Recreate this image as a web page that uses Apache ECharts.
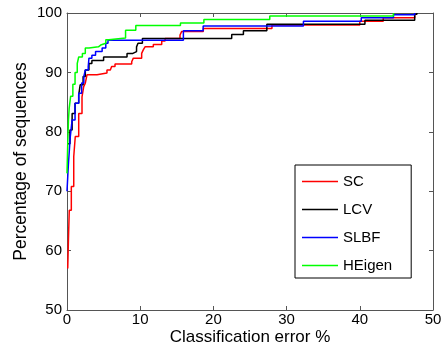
<!DOCTYPE html>
<html>
<head>
<meta charset="utf-8">
<script src="https://cdn.jsdelivr.net/npm/echarts@6/dist/echarts.min.js"></script>
<style>html,body{margin:0;padding:0;background:#fff;}#c{width:443px;height:352px;}</style>
</head>
<body>
<div id="c"></div>
<script>
var seriesNames = ['SC', 'LCV', 'SLBF', 'HEigen'];
var xTicks = [0, 10, 20, 30, 40, 50];
var yTicks = [50, 60, 70, 80, 90, 100];

var scData = [[0.1,57],[0.2,62],[0.31,66.8],[0.59,70.8],[0.92,75.8],[1.13,79.2],[1.6,83.1],[2.05,85.9],[2.28,87.6],[2.5,88.2],[2.73,89.6],[4.1,89.9],[5.46,90.4],[5.92,90.7],[6.1,91.0],[6.56,91.4],[8.84,91.8],[9.06,92.4],[10.2,93.2],[10.42,93.8],[10.66,94.3],[11.79,94.7],[12.94,95.3],[13.4,95.7],[15.44,96.3],[15.67,96.9],[18.62,97.4],[28,98.0],[40,98.6],[43.2,99.2],[47.5,100]];
var lcvData = [[0,78],[0.4,80.3],[0.7,83.1],[1.1,84.8],[1.6,86.2],[1.8,87.9],[2.2,89.3],[2.5,90.4],[3.0,91.5],[3.4,92.0],[5.0,92.6],[8.2,93.2],[9.0,93.5],[9.5,94.3],[9.7,94.9],[10.3,95.7],[22.5,96.4],[24.1,97.0],[27.3,98.1],[40.7,98.8],[47.5,99.8],[47.8,100]];
var slbfData = [[0,70],[0.1,72.4],[0.2,74.7],[0.45,79.2],[0.7,82],[1.1,84.8],[1.6,86.5],[2.0,88.2],[2.3,89.3],[2.5,90.4],[2.9,91.0],[3.0,92.4],[3.4,92.9],[3.9,93.5],[4.8,94.1],[5.3,94.9],[5.6,95.4],[15.9,97.0],[18.6,97.8],[32.3,98.6],[40.2,99.2],[44.6,99.7],[47.5,100]];
var heigenData = [[0,73],[0.1,78],[0.2,82],[0.3,84],[0.5,86],[0.8,88],[1.1,90],[1.4,91.5],[1.6,92.6],[2.1,93.2],[2.5,94.1],[3.0,94.3],[4.3,94.6],[4.6,94.9],[5.3,95.5],[5.7,95.8],[8.0,97.1],[9.4,97.9],[15.5,98.3],[18.7,98.9],[27.7,99.5],[44.6,100]];

var colors = ['#ff0000', '#000000', '#0000ff', '#00ff00'];
var datas = [scData, lcvData, slbfData, heigenData];

var axisColor = '#555';
var font = 'Liberation Sans, Arial, sans-serif';

function mkSeries(i) {
  return {
    name: seriesNames[i],
    type: 'line',
    step: 'end',
    data: datas[i],
    symbol: 'none',
    showSymbol: false,
    xAxisIndex: 0,
    yAxisIndex: 0,
    lineStyle: { color: colors[i], width: 1.5 },
    itemStyle: { color: colors[i] },
    animation: false
  };
}

var chart = echarts.init(document.getElementById('c'), null, { renderer: 'canvas' });
chart.setOption({
  animation: false,
  backgroundColor: '#fff',
  grid: { left: 67, right: 10, top: 13, bottom: 42, containLabel: false, outerBoundsMode: 'none' },
  xAxis: [{
    type: 'value', min: xTicks[0], max: xTicks[xTicks.length - 1], interval: 10,
    position: 'bottom',
    name: 'Classification error %', nameLocation: 'middle', nameGap: 18.5,
    nameMoveOverlap: false,
    nameTextStyle: { fontFamily: font, fontSize: 17, color: '#000', verticalAlign: 'top' },
    axisLine: { show: true, lineStyle: { color: axisColor, width: 1 } },
    axisTick: { show: true, inside: true, length: 4, lineStyle: { color: axisColor } },
    axisLabel: { fontFamily: font, fontSize: 15, color: '#000', margin: 2 },
    splitLine: { show: false }
  }, {
    type: 'value', min: xTicks[0], max: xTicks[xTicks.length - 1], interval: 10,
    position: 'top',
    axisLine: { show: true, onZero: false, lineStyle: { color: axisColor, width: 1 } },
    axisTick: { show: true, inside: true, length: 4, lineStyle: { color: axisColor } },
    axisLabel: { show: false },
    splitLine: { show: false }
  }],
  yAxis: [{
    type: 'value', min: yTicks[0], max: yTicks[yTicks.length - 1], interval: 10,
    position: 'left',
    name: 'Percentage of sequences', nameLocation: 'middle', nameGap: 37,
    nameMoveOverlap: false,
    nameTextStyle: { fontFamily: font, fontSize: 17.5, color: '#000' },
    axisLine: { show: true, onZero: false, lineStyle: { color: axisColor, width: 1 } },
    axisTick: { show: true, inside: true, length: 4, lineStyle: { color: axisColor } },
    axisLabel: { fontFamily: font, fontSize: 15, color: '#000', margin: 5 },
    splitLine: { show: false }
  }, {
    type: 'value', min: yTicks[0], max: yTicks[yTicks.length - 1], interval: 10,
    position: 'right',
    axisLine: { show: true, onZero: false, lineStyle: { color: axisColor, width: 1 } },
    axisTick: { show: true, inside: true, length: 4, lineStyle: { color: axisColor } },
    axisLabel: { show: false },
    splitLine: { show: false }
  }],
  legend: {
    data: seriesNames,
    orient: 'vertical',
    left: 295, top: 165,
    icon: 'rect',
    itemWidth: 36, itemHeight: 1.5, itemGap: 11,
    padding: [8, 19, 4, 7],
    borderColor: '#000', borderWidth: 1,
    backgroundColor: '#fff',
    textStyle: { fontFamily: font, fontSize: 15, color: '#000', lineHeight: 17 }
  },
  series: [mkSeries(0), mkSeries(1), mkSeries(2), mkSeries(3)]
});
</script>
</body>
</html>
